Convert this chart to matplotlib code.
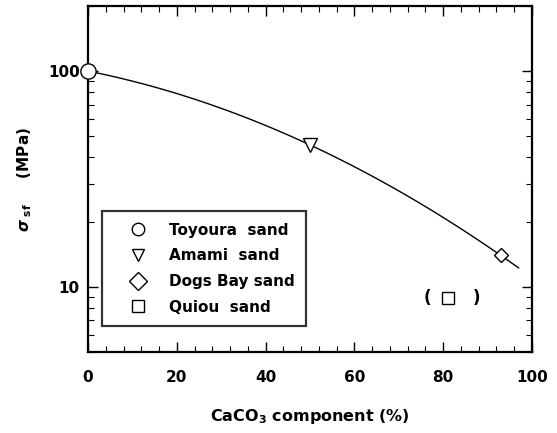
import numpy as np
import matplotlib
matplotlib.use('Agg')
import matplotlib.pyplot as plt
from matplotlib.ticker import MultipleLocator, LogLocator, NullFormatter, FixedLocator

plt.rcParams['font.family'] = ['DejaVu Sans']
plt.rcParams['font.weight'] = 'bold'
plt.rcParams['mathtext.fontset'] = 'custom'
plt.rcParams['mathtext.rm'] = 'DejaVu Sans:bold'
plt.rcParams['mathtext.it'] = 'DejaVu Sans:italic:bold'

# data
sands = ['Toyoura  sand', 'Amami  sand', 'Dogs Bay sand', 'Quiou  sand']
caco3 = [0, 50, 93, 81]
sigma_sf = [100, 45.5, 14, 8.9]
markers = ['o', 'v', 'D', 's']
msizes = [11, 10, 7, 8]

# trend line through the first three sands (log fit)
coef = np.polyfit(caco3[:3], np.log10(sigma_sf[:3]), 2)
xfit = np.linspace(0, 97, 100)
yfit = 10 ** np.polyval(coef, xfit)

fig = plt.figure(figsize=(5.57, 4.33), dpi=100)
ax = fig.add_axes([0.158, 0.187, 0.797, 0.799])

ax.plot(xfit, yfit, color='black', lw=1.0, zorder=1)
for i in range(4):
    ax.plot(caco3[i], sigma_sf[i], linestyle='none', marker=markers[i],
            ms=msizes[i], mfc='white', mec='black', mew=1.0,
            label=sands[i], zorder=3, clip_on=False)

ax.text(caco3[3] - 4.5, sigma_sf[3], '(', ha='center', va='center', fontsize=12)
ax.text(caco3[3] + 6.5, sigma_sf[3], ')', ha='center', va='center', fontsize=12)

ax.set_yscale('log')
ax.set_xlim(0, 100)
ax.set_ylim(5, 200)
ax.xaxis.set_major_locator(MultipleLocator(20))
ax.xaxis.set_minor_locator(MultipleLocator(4))
ax.yaxis.set_major_locator(FixedLocator([10, 100]))
ax.yaxis.set_major_formatter(plt.FixedFormatter(['10', '100']))
ax.yaxis.set_minor_locator(LogLocator(base=10, subs=np.arange(2, 10)))
ax.yaxis.set_minor_formatter(NullFormatter())

ax.tick_params(which='both', direction='in', top=True, right=True,
               labelsize=11)
ax.tick_params(axis='x', pad=13)
ax.tick_params(axis='y', pad=6)
ax.tick_params(which='major', length=7, width=1.0)
ax.tick_params(which='minor', length=4, width=0.8)
for s in ax.spines.values():
    s.set_linewidth(1.6)
for lab in ax.get_xticklabels() + ax.get_yticklabels():
    lab.set_fontweight('bold')

ax.set_xlabel('CaCO$_3$ component (%)', fontsize=11.5, fontweight='bold', labelpad=16)
ax.set_ylabel(r'$\sigma$$_{\ \rm sf}$     (MPa)', fontsize=11, fontweight='bold', labelpad=10)

leg = ax.legend(loc='lower left', bbox_to_anchor=(0.0315, 0.075), borderaxespad=0,
                frameon=True, fancybox=False, edgecolor='black',
                handlelength=3.2, handletextpad=0.45, labelspacing=0.7,
                borderpad=0.75, prop={'weight': 'bold', 'size': 11})
leg.get_frame().set_linewidth(1.6)
for h in leg.legend_handles:
    h.set_markersize(9)

fig.savefig('out.png', dpi=100)
